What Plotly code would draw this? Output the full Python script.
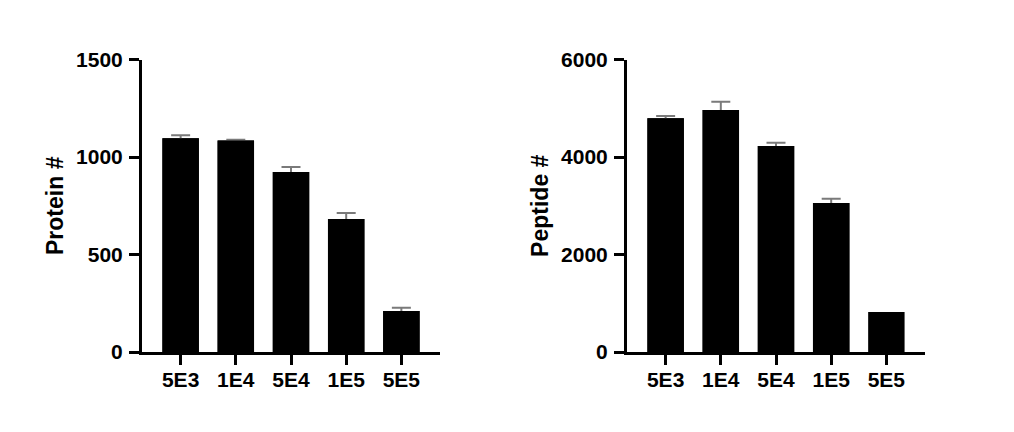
import plotly.graph_objects as go
from plotly.subplots import make_subplots

categories = ["5E3", "1E4", "5E4", "1E5", "5E5"]
protein_mean = [1096, 1084, 923, 682, 210]
protein_err = [16, 5, 26, 31, 17]
peptide_mean = [4793, 4964, 4226, 3056, 820]
peptide_err = [48, 171, 68, 89, None]  # no visible error bar for 5E5

protein_ticks = [0, 500, 1000, 1500]
peptide_ticks = [0, 2000, 4000, 6000]

W, H = 1014, 432
OFF = 8  # page body margin
FONT = dict(family="Liberation Sans, Arial, sans-serif", color="black", weight="bold")

fig = make_subplots(rows=1, cols=2)

for col, (mean, err) in enumerate([(protein_mean, protein_err), (peptide_mean, peptide_err)], start=1):
    keep = [i for i, e in enumerate(err) if e is not None]
    # bar carrying the (symmetric) error bars
    fig.add_trace(
        go.Bar(
            x=[categories[i] for i in keep],
            y=[mean[i] for i in keep],
            marker=dict(color="black", line=dict(width=0)),
            error_y=dict(
                type="data",
                array=[err[i] for i in keep],
                symmetric=True,
                color="#7a7a7a",
                thickness=2,
                width=9.5,
            ),
            showlegend=False,
            hoverinfo="skip",
        ),
        row=1, col=col,
    )
    # same bars drawn on top, hiding the lower half of the error bars
    fig.add_trace(
        go.Bar(
            x=categories,
            y=mean,
            marker=dict(color="black", line=dict(width=0)),
            showlegend=False,
        ),
        row=1, col=col,
    )

y0 = (H - (352 - OFF)) / H
y1 = (H - (59.5 - OFF)) / H

axis_common = dict(
    automargin=False,
    showgrid=False,
    zeroline=False,
    showline=True,
    linecolor="black",
    linewidth=3,
    ticks="outside",
    ticklen=10,
    tickwidth=2.5,
    tickcolor="black",
    tickfont=dict(size=21, **FONT),
)

for col, (lo, hi) in enumerate([(142, 440), (627, 925)], start=1):
    fig.update_xaxes(domain=[(lo - OFF) / W, (hi - OFF) / W], range=[-0.7, 4.7],
                     categoryorder="array", categoryarray=categories,
                     ticklabelstandoff=-3, row=1, col=col, **axis_common)

fig.update_yaxes(
    domain=[y0, y1], range=[0, 1500], tickvals=protein_ticks, ticklabelstandoff=2,
    title=dict(text="Protein #", font=dict(size=23, **FONT), standoff=7),
    row=1, col=1, **axis_common,
)
fig.update_yaxes(
    domain=[y0, y1], range=[0, 6000], tickvals=peptide_ticks, ticklabelstandoff=2,
    title=dict(text="Peptide #", font=dict(size=23, **FONT), standoff=7),
    row=1, col=2, **axis_common,
)

fig.update_layout(
    width=W,
    height=H,
    margin=dict(l=0, r=0, t=0, b=0, autoexpand=False),
    plot_bgcolor="white",
    paper_bgcolor="white",
    barmode="overlay",
    bargap=0.34,
)

fig.write_html("out.html")
